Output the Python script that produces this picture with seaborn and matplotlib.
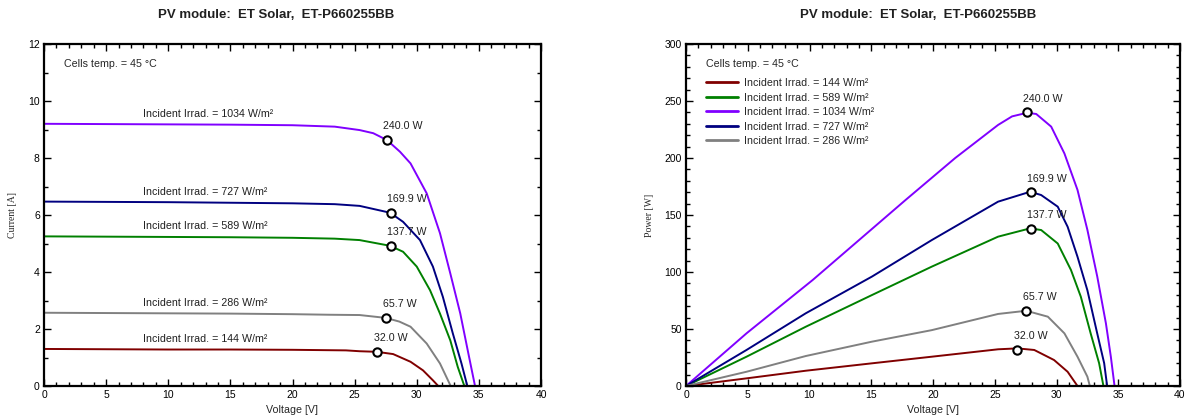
import numpy as np
import pandas as pd
import matplotlib
matplotlib.use("Agg")
import matplotlib.pyplot as plt
from matplotlib.ticker import MultipleLocator
import seaborn as sns

# ---------------- data ----------------
title = "PV module:  ET Solar,  ET-P660255BB"
temp_text = "Cells temp. = 45 °C"
irradiances = [144, 589, 1034, 727, 286]          # legend order
colors = ["#800000", "#008000", "#8000ff", "#000080", "#808080"]

# I-V curves (Voltage [V], Current [A])
iv_v_144 = [0, 5, 10, 15, 20, 24.3, 25.4, 26.77, 28.1, 29.5, 30.5, 31.3, 31.73]
iv_i_144 = [1.30, 1.29, 1.28, 1.28, 1.27, 1.25, 1.22, 1.20, 1.12, 0.85, 0.55, 0.20, 0]
iv_v_589 = [0, 5, 10, 15, 20, 23.4, 25.4, 27.85, 28.9, 30.0, 31.07, 31.87, 32.7, 33.3, 33.83]
iv_i_589 = [5.25, 5.24, 5.23, 5.22, 5.20, 5.17, 5.12, 4.92, 4.71, 4.19, 3.36, 2.54, 1.60, 0.67, 0]
iv_v_1034 = [0, 5, 10, 15, 20, 23.4, 25.4, 26.5, 27.6, 28.65, 29.5, 30.8, 31.87, 32.7, 33.5, 34.15, 34.69]
iv_i_1034 = [9.20, 9.19, 9.18, 9.17, 9.15, 9.10, 8.98, 8.87, 8.63, 8.22, 7.81, 6.76, 5.36, 3.95, 2.55, 1.15, 0]
iv_v_727 = [0, 5, 10, 15, 20, 23.4, 25.4, 27.85, 28.9, 30.26, 31.3, 32.1, 32.9, 33.6, 34.07]
iv_i_727 = [6.47, 6.46, 6.45, 6.43, 6.41, 6.38, 6.32, 6.08, 5.76, 5.12, 4.19, 3.13, 1.85, 0.79, 0]
iv_v_286 = [0, 5, 10, 15, 20, 23, 25.4, 27.5, 28.6, 29.5, 30.8, 31.87, 32.73]
iv_i_286 = [2.57, 2.56, 2.55, 2.54, 2.52, 2.50, 2.49, 2.39, 2.26, 2.08, 1.49, 0.79, 0]

# P-V curves (Voltage [V], Power [W])
pv_v_144 = [0, 4.9, 9.7, 15.06, 19.9, 25.27, 26.83, 28.2, 29.8, 30.9, 31.7]
pv_p_144 = [0, 6.7, 13.4, 19.9, 25.7, 32.2, 33.0, 31.6, 22.8, 12.5, 0]
pv_v_589 = [0, 4.9, 9.7, 15.06, 19.9, 25.27, 27.87, 28.76, 30.1, 31.17, 31.97, 32.77, 33.45, 33.8]
pv_p_589 = [0, 25.7, 52, 79.8, 104.7, 131, 138.3, 136.8, 125, 101.8, 78.3, 46, 20, 0]
pv_v_1034 = [0, 4.9, 10.26, 17.76, 21.8, 25.27, 26.4, 27.63, 28.36, 29.57, 30.64, 31.7, 32.5, 33.3, 34.0, 34.4, 34.7]
pv_p_1034 = [0, 46.2, 93, 163, 200, 229, 236.5, 239.7, 238.6, 227.5, 204, 172, 137, 96, 55, 25.7, 0]
pv_v_727 = [0, 4.9, 9.7, 15.06, 19.9, 25.27, 27.87, 28.76, 30.1, 30.9, 31.7, 32.5, 33.3, 33.86, 34.1]
pv_p_727 = [0, 31.6, 63.8, 96, 128, 161.7, 170.4, 167.5, 157.3, 139.7, 113.4, 84, 46, 20, 0]
pv_v_286 = [0, 4.9, 9.7, 15.06, 19.9, 25.27, 27.55, 29.3, 30.64, 31.7, 32.5, 32.7]
pv_p_286 = [0, 12.5, 26.3, 38.9, 49, 63.2, 66, 60.8, 46.2, 25.7, 8.2, 0]

# maximum power points
mpp_v = [26.8, 27.9, 27.6, 27.9, 27.55]
mpp_i = [1.20, 4.92, 8.63, 6.08, 2.39]
mpp_p = [32.0, 137.7, 240.0, 169.9, 65.7]

# ---------------- build tables ----------------
iv_sets = {144: (iv_v_144, iv_i_144), 589: (iv_v_589, iv_i_589), 1034: (iv_v_1034, iv_i_1034),
           727: (iv_v_727, iv_i_727), 286: (iv_v_286, iv_i_286)}
pv_sets = {144: (pv_v_144, pv_p_144), 589: (pv_v_589, pv_p_589), 1034: (pv_v_1034, pv_p_1034),
           727: (pv_v_727, pv_p_727), 286: (pv_v_286, pv_p_286)}

def lab(g):
    return f"Incident Irrad. = {g} W/m²"

iv_rows, pv_rows = [], []
for g in irradiances:
    for v, i in zip(*iv_sets[g]):
        iv_rows.append((v, i, lab(g)))
    for v, p in zip(*pv_sets[g]):
        pv_rows.append((v, p, lab(g)))
iv_df = pd.DataFrame(iv_rows, columns=["Voltage", "Current", "Series"])
pv_df = pd.DataFrame(pv_rows, columns=["Voltage", "Power", "Series"])
mpp_df = pd.DataFrame({"Voltage": mpp_v, "Current": mpp_i, "Power": mpp_p,
                       "Series": [lab(g) for g in irradiances]})
order = [lab(g) for g in irradiances]
palette = dict(zip(order, colors))

# ---------------- style ----------------
sns.set_style("ticks")
plt.rcParams["font.family"] = ["Liberation Sans", "DejaVu Sans"]
plt.rcParams["font.size"] = 7.5
fs = 7.7

W, H = 1186, 420
fig = plt.figure(figsize=(W / 100, H / 100), dpi=100)
ax1 = fig.add_axes([44 / W, 1 - 386 / H, 497 / W, 342 / H])
ax2 = fig.add_axes([686 / W, 1 - 386 / H, 494 / W, 342 / H])

lw = 1.4
sns.lineplot(data=iv_df, x="Voltage", y="Current", hue="Series", hue_order=order,
             palette=palette, sort=False, estimator=None, linewidth=lw, legend=False, ax=ax1)
sns.lineplot(data=pv_df, x="Voltage", y="Power", hue="Series", hue_order=order,
             palette=palette, sort=False, estimator=None, linewidth=lw, legend=True, ax=ax2)

for ax, ycol in ((ax1, "Current"), (ax2, "Power")):
    sns.scatterplot(data=mpp_df, x="Voltage", y=ycol, marker="o", s=36,
                    facecolor="white", edgecolor="black", linewidth=1.5,
                    zorder=5, legend=False, ax=ax)
    for v, y, p in zip(mpp_df["Voltage"], mpp_df[ycol], mpp_df["Power"]):
        ax.annotate(f"{p:.1f} W", xy=(v, y), xytext=(-2.5, 9.8), textcoords="offset points",
                    ha="left", va="center", fontsize=fs, color="#202020")

# irradiance labels on I-V plot
for g in irradiances:
    v, i = iv_sets[g]
    ax1.annotate(lab(g), xy=(8, np.interp(8, v, i)), xytext=(0, 7.5), textcoords="offset points",
                 ha="left", va="center", fontsize=fs, color="#202020")

# axes formatting
ax1.set_xlim(0, 40); ax1.set_ylim(0, 12)
ax2.set_xlim(0, 40); ax2.set_ylim(0, 300)
ax1.yaxis.set_major_locator(MultipleLocator(2)); ax1.yaxis.set_minor_locator(MultipleLocator(1))
ax2.yaxis.set_major_locator(MultipleLocator(50)); ax2.yaxis.set_minor_locator(MultipleLocator(10))
for ax in (ax1, ax2):
    ax.xaxis.set_major_locator(MultipleLocator(5)); ax.xaxis.set_minor_locator(MultipleLocator(1))
    ax.tick_params(which="both", direction="in", top=True, right=True, width=1, colors="black",
                   labelsize=7.5, pad=3)
    ax.tick_params(which="major", length=5)
    ax.tick_params(which="minor", length=3)
    for s in ax.spines.values():
        s.set_linewidth(1.6)
        s.set_color("black")
    ax.set_xlabel("Voltage [V]", fontsize=fs)
    ax.xaxis.set_label_coords(0.5, -0.055)
    ax.text(0.04, 0.942, temp_text, transform=ax.transAxes, ha="left", va="center", fontsize=fs)

ax1.set_ylabel("Current [A]", fontsize=7, family="Liberation Serif", ha="center", va="center")
ax1.yaxis.set_label_coords(-0.064, 0.5)
ax2.set_ylabel("Power [W]", fontsize=7, family="Liberation Serif", ha="center", va="center")
ax2.yaxis.set_label_coords(-0.074, 0.5)

handles, labels = ax2.get_legend_handles_labels()
leg = ax2.legend(handles, labels, loc="upper left", bbox_to_anchor=(0.04, 0.9), frameon=False,
                 fontsize=fs, handlelength=3.0, handletextpad=0.6, labelspacing=0.42,
                 borderpad=0, borderaxespad=0)
for h in leg.get_lines():
    h.set_linewidth(2)

fig.text(276 / W, 1 - 15 / H, title, ha="center", va="center", fontsize=9.5, fontweight="bold",
         color="#202020")
fig.text(918 / W, 1 - 15 / H, title, ha="center", va="center", fontsize=9.5, fontweight="bold",
         color="#202020")

fig.savefig("out.png", dpi=100)
